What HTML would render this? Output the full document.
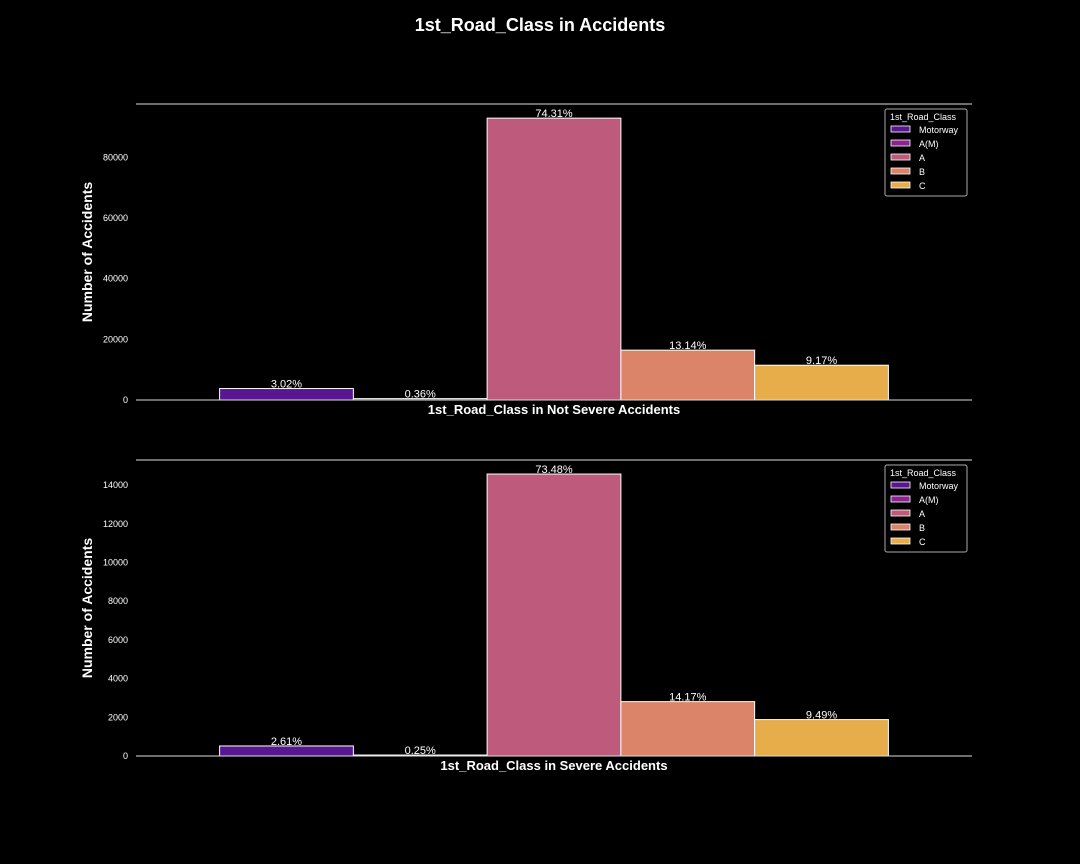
<!DOCTYPE html>
<html><head><meta charset="utf-8"><style>
body{margin:0;background:#000;}
svg{display:block;font-family:"Liberation Sans",Arial,sans-serif;}
</style></head><body>
<svg id="c" width="1080" height="864">
<text x="540" y="31" fill="#fff" font-size="18" font-weight="bold" text-anchor="middle">1st_Road_Class in Accidents</text>
</svg>
<script>
const categories=["Motorway","A(M)","A","B","C"];
const colors=["#5a1691","#8e2290","#be5a7c","#db8469","#e6ad4a"];
const notSevereValues=[3776,450,92900,16430,11465];
const notSevereLabels=["3.02%","0.36%","74.31%","13.14%","9.17%"];
const notSevereTicks=[0,20000,40000,60000,80000];
const severeValues=[518,50,14574,2810,1882];
const severeLabels=["2.61%","0.25%","73.48%","14.17%","9.49%"];
const severeTicks=[0,2000,4000,6000,8000,10000,12000,14000];
const svg=document.getElementById('c');
const NS='http://www.w3.org/2000/svg';
function mk(tag,attrs,text){const e=document.createElementNS(NS,tag);for(const k in attrs)e.setAttribute(k,attrs[k]);if(text!==undefined)e.textContent=text;svg.appendChild(e);return e;}
function panel(prefix,top,bottom,ymax,values,labels,ticks,xlabel){
  const x0=136,x1=972;
  const y=v=>bottom-(v/ymax)*(bottom-top);
  let e=mk('line',{x1:x0,x2:x1,y1:top,y2:top,stroke:'#ddd','stroke-width':1});
  
  const bw=(x1-x0)*0.8/categories.length, start=(x0+x1)/2-bw*categories.length/2;
  values.forEach((v,i)=>{
    const bx=start+i*bw;
    const r=mk('rect',{x:bx,y:y(v),width:bw,height:bottom-y(v),fill:colors[i],stroke:'#fff','stroke-width':1});
    
    
    const t=mk('text',{x:bx+bw/2,y:y(v)-1,fill:'#fff','font-size':11,'text-anchor':'middle'},labels[i]);
    
  });
  e=mk('line',{x1:x0,x2:x1,y1:bottom,y2:bottom,stroke:'#ddd','stroke-width':1});
  
  ticks.forEach(t=>{
    const tx=mk('text',{x:128,y:y(t)+3,fill:'#fff','font-size':9,'text-anchor':'end'},String(t));
    
  });
  const xl=mk('text',{x:554,y:bottom+14,fill:'#fff','font-size':13,'font-weight':'bold','text-anchor':'middle'},xlabel);
  
  const cy=(top+bottom)/2;
  const yl=mk('text',{x:92,y:cy,fill:'#fff','font-size':14,'font-weight':'bold','text-anchor':'middle',transform:`rotate(-90 92 ${cy})`},'Number of Accidents');
  
  const ly=top+5;
  const lb=mk('rect',{x:885,y:ly,width:82,height:87,rx:2,fill:'#000',stroke:'#aaa','stroke-width':1});
  
  const lt=mk('text',{x:890,y:ly+11,fill:'#fff','font-size':9},'1st_Road_Class');
  
  categories.forEach((c,i)=>{
    const ey=ly+17+i*14;
    const s=mk('rect',{x:891,y:ey,width:19,height:6,fill:colors[i],stroke:'#fff','stroke-width':0.8});
    
    const et=mk('text',{x:919,y:ey+7,fill:'#fff','font-size':9},c);
    
  });
}
panel('not-severe',104,400,97560,notSevereValues,notSevereLabels,notSevereTicks,'1st_Road_Class in Not Severe Accidents');
panel('severe',460,756,15300,severeValues,severeLabels,severeTicks,'1st_Road_Class in Severe Accidents');
</script>
</body></html>
